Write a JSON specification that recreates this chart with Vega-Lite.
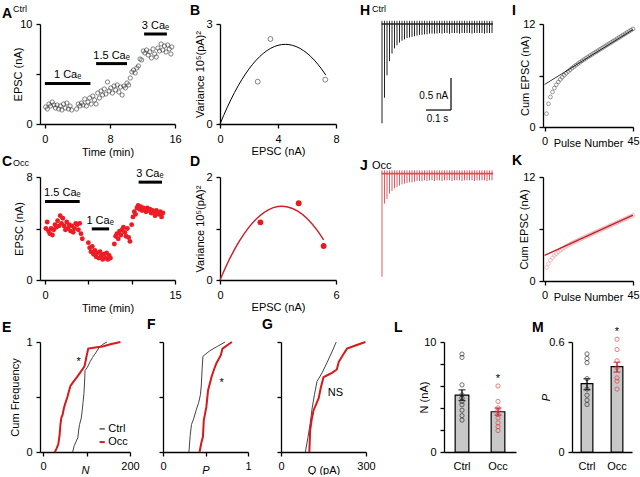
{
 "$schema": "https://vega.github.io/schema/vega-lite/v6.json",
 "padding": {"left": 2, "top": 4, "right": 0, "bottom": 0},
 "spacing": -3,
 "bounds": "full",
 "datasets": {
  "ctrl_train": [
   {"n":1,"t":0,"a":-1.55,"c":1.55},{"n":2,"t":0.01,"a":-1.15,"c":2.70},{"n":3,"t":0.02,"a":-0.80,"c":3.50},{"n":4,"t":0.03,"a":-0.58,"c":4.08},{"n":5,"t":0.04,"a":-0.46,"c":4.54},
   {"n":6,"t":0.05,"a":-0.38,"c":4.92},{"n":7,"t":0.06,"a":-0.33,"c":5.25},{"n":8,"t":0.07,"a":-0.29,"c":5.54},{"n":9,"t":0.08,"a":-0.26,"c":5.80},{"n":10,"t":0.09,"a":-0.24,"c":6.04},
   {"n":11,"t":0.10,"a":-0.22,"c":6.26},{"n":12,"t":0.11,"a":-0.21,"c":6.47},{"n":13,"t":0.12,"a":-0.20,"c":6.67},{"n":14,"t":0.13,"a":-0.19,"c":6.86},{"n":15,"t":0.14,"a":-0.18,"c":7.04},
   {"n":16,"t":0.15,"a":-0.17,"c":7.21},{"n":17,"t":0.16,"a":-0.17,"c":7.38},{"n":18,"t":0.17,"a":-0.16,"c":7.54},{"n":19,"t":0.18,"a":-0.16,"c":7.70},{"n":20,"t":0.19,"a":-0.15,"c":7.85},
   {"n":21,"t":0.20,"a":-0.15,"c":8.00},{"n":22,"t":0.21,"a":-0.15,"c":8.15},{"n":23,"t":0.22,"a":-0.15,"c":8.30},{"n":24,"t":0.23,"a":-0.14,"c":8.44},{"n":25,"t":0.24,"a":-0.15,"c":8.59},
   {"n":26,"t":0.25,"a":-0.14,"c":8.73},{"n":27,"t":0.26,"a":-0.14,"c":8.87},{"n":28,"t":0.27,"a":-0.15,"c":9.02},{"n":29,"t":0.28,"a":-0.14,"c":9.16},{"n":30,"t":0.29,"a":-0.14,"c":9.30},
   {"n":31,"t":0.30,"a":-0.14,"c":9.44},{"n":32,"t":0.31,"a":-0.15,"c":9.59},{"n":33,"t":0.32,"a":-0.14,"c":9.73},{"n":34,"t":0.33,"a":-0.14,"c":9.87},{"n":35,"t":0.34,"a":-0.14,"c":10.01},
   {"n":36,"t":0.35,"a":-0.14,"c":10.15},{"n":37,"t":0.36,"a":-0.15,"c":10.30},{"n":38,"t":0.37,"a":-0.14,"c":10.44},{"n":39,"t":0.38,"a":-0.14,"c":10.58},{"n":40,"t":0.39,"a":-0.14,"c":10.72},
   {"n":41,"t":0.40,"a":-0.14,"c":10.86},{"n":42,"t":0.41,"a":-0.15,"c":11.01},{"n":43,"t":0.42,"a":-0.14,"c":11.15},{"n":44,"t":0.43,"a":-0.14,"c":11.29},{"n":45,"t":0.44,"a":-0.14,"c":11.43}
  ],
  "occ_train": [
   {"n":1,"t":0,"a":-1.55,"c":1.55},{"n":2,"t":0.01,"a":-0.45,"c":2.00},{"n":3,"t":0.02,"a":-0.38,"c":2.38},{"n":4,"t":0.03,"a":-0.30,"c":2.68},{"n":5,"t":0.04,"a":-0.26,"c":2.94},
   {"n":6,"t":0.05,"a":-0.22,"c":3.16},{"n":7,"t":0.06,"a":-0.20,"c":3.36},{"n":8,"t":0.07,"a":-0.18,"c":3.54},{"n":9,"t":0.08,"a":-0.16,"c":3.70},{"n":10,"t":0.09,"a":-0.15,"c":3.85},
   {"n":11,"t":0.10,"a":-0.14,"c":3.99},{"n":12,"t":0.11,"a":-0.13,"c":4.12},{"n":13,"t":0.12,"a":-0.13,"c":4.25},{"n":14,"t":0.13,"a":-0.12,"c":4.37},{"n":15,"t":0.14,"a":-0.11,"c":4.48},
   {"n":16,"t":0.15,"a":-0.11,"c":4.59},{"n":17,"t":0.16,"a":-0.11,"c":4.70},{"n":18,"t":0.17,"a":-0.10,"c":4.80},{"n":19,"t":0.18,"a":-0.11,"c":4.91},{"n":20,"t":0.19,"a":-0.10,"c":5.01},
   {"n":21,"t":0.20,"a":-0.10,"c":5.11},{"n":22,"t":0.21,"a":-0.11,"c":5.22},{"n":23,"t":0.22,"a":-0.10,"c":5.32},{"n":24,"t":0.23,"a":-0.10,"c":5.42},{"n":25,"t":0.24,"a":-0.11,"c":5.53},
   {"n":26,"t":0.25,"a":-0.10,"c":5.63},{"n":27,"t":0.26,"a":-0.10,"c":5.73},{"n":28,"t":0.27,"a":-0.10,"c":5.83},{"n":29,"t":0.28,"a":-0.11,"c":5.94},{"n":30,"t":0.29,"a":-0.10,"c":6.04},
   {"n":31,"t":0.30,"a":-0.10,"c":6.14},{"n":32,"t":0.31,"a":-0.10,"c":6.24},{"n":33,"t":0.32,"a":-0.11,"c":6.35},{"n":34,"t":0.33,"a":-0.10,"c":6.45},{"n":35,"t":0.34,"a":-0.10,"c":6.55},
   {"n":36,"t":0.35,"a":-0.10,"c":6.65},{"n":37,"t":0.36,"a":-0.10,"c":6.75},{"n":38,"t":0.37,"a":-0.11,"c":6.86},{"n":39,"t":0.38,"a":-0.10,"c":6.96},{"n":40,"t":0.39,"a":-0.10,"c":7.06},
   {"n":41,"t":0.40,"a":-0.10,"c":7.16},{"n":42,"t":0.41,"a":-0.10,"c":7.26},{"n":43,"t":0.42,"a":-0.11,"c":7.37},{"n":44,"t":0.43,"a":-0.10,"c":7.47},{"n":45,"t":0.44,"a":-0.10,"c":7.57}
  ]
 },
 "vconcat": [
  {
   "hconcat": [
    {
     "width": 135, "height": 100,
     "title": {"text": "A", "dx": -38, "dy": 20},
     "layer": [
      {
       "data": {"values": [
        {"t":0.1,"v":1.7},{"t":0.3,"v":1.5},{"t":0.5,"v":2.0},{"t":0.7,"v":1.8},{"t":0.9,"v":2.2},{"t":1.1,"v":1.9},{"t":1.3,"v":1.6},{"t":1.5,"v":1.9},{"t":1.7,"v":1.5},{"t":1.9,"v":1.8},
        {"t":2.1,"v":1.4},{"t":2.3,"v":2.0},{"t":2.5,"v":1.6},{"t":2.7,"v":2.1},{"t":2.9,"v":1.5},{"t":3.1,"v":1.8},{"t":3.3,"v":1.4},{"t":3.9,"v":1.5},{"t":4.1,"v":2.0},{"t":4.3,"v":1.8},
        {"t":4.5,"v":2.1},{"t":4.7,"v":1.9},{"t":4.9,"v":2.5},{"t":5.1,"v":1.8},{"t":5.3,"v":2.2},{"t":5.5,"v":2.6},{"t":5.7,"v":2.0},{"t":5.9,"v":2.8},{"t":6.1,"v":2.4},{"t":6.3,"v":2.0},
        {"t":6.5,"v":3.1},{"t":6.7,"v":2.6},{"t":6.9,"v":3.3},{"t":7.1,"v":2.9},{"t":7.3,"v":3.5},{"t":7.5,"v":3.0},{"t":7.7,"v":4.2},{"t":7.9,"v":3.3},{"t":8.1,"v":3.6},{"t":8.3,"v":3.1},
        {"t":8.5,"v":3.8},{"t":8.7,"v":3.4},{"t":8.9,"v":3.9},{"t":9.1,"v":3.2},{"t":9.3,"v":3.7},{"t":9.5,"v":2.9},{"t":9.7,"v":3.8},{"t":9.9,"v":3.6},{"t":10.1,"v":4.1},{"t":10.3,"v":3.9},
        {"t":10.5,"v":4.6},{"t":10.7,"v":5.2},{"t":10.9,"v":5.4},{"t":11.1,"v":5.1},{"t":11.3,"v":5.6},{"t":11.5,"v":5.8},{"t":11.7,"v":6.5},{"t":11.9,"v":6.4},{"t":12.1,"v":7.3},{"t":12.3,"v":7.1},
        {"t":12.5,"v":7.4},{"t":12.7,"v":6.9},{"t":12.9,"v":7.2},{"t":13.1,"v":6.6},{"t":13.3,"v":7.5},{"t":13.5,"v":7.0},{"t":13.7,"v":6.7},{"t":13.9,"v":7.6},{"t":14.1,"v":7.3},{"t":14.3,"v":8.0},
        {"t":14.5,"v":7.4},{"t":14.7,"v":7.8},{"t":14.9,"v":7.2},{"t":15.1,"v":7.9},{"t":15.3,"v":7.5},{"t":15.5,"v":7.0},{"t":15.6,"v":7.7}
       ]},
       "mark": {"type": "point", "shape": "circle", "filled": false, "size": 18, "strokeWidth": 0.8, "color": "#222"},
       "encoding": {
        "x": {"field": "t", "type": "quantitative", "scale": {"domain": [-0.6, 16], "nice": false, "zero": false}, "axis": {"values": [0,4,8,12,16], "labelExpr": "datum.value == 0 ? '0' : datum.value == 8 ? '8' : datum.value == 16 ? '16' : ''", "title": "Time (min)", "labelPadding": 5, "titlePadding": 2}},
        "y": {"field": "v", "type": "quantitative", "scale": {"domain": [0, 10], "nice": false}, "axis": {"values": [0,5,10], "labelExpr": "datum.value == 0 ? '0' : datum.value == 10 ? '10' : ''", "title": "EPSC (nA)", "titlePadding": -4}}
       }
      },
      {
       "data": {"values": [{"s":0,"e":5.6,"y":4.06},{"s":6.3,"e":10.1,"y":6.04},{"s":12.2,"e":15.0,"y":9.0}]},
       "mark": {"type": "rule", "strokeWidth": 3, "color": "#000"},
       "encoding": {"x": {"field": "s", "type": "quantitative"}, "x2": {"field": "e"}, "y": {"field": "y", "type": "quantitative"}}
      },
      {
       "data": {"values": [{"x":2.8,"y":4.06,"s":"1 Caₑ"},{"x":8.2,"y":6.04,"s":"1.5 Caₑ"},{"x":13.6,"y":9.0,"s":"3 Caₑ"}]},
       "mark": {"type": "text", "baseline": "bottom", "dy": -3},
       "encoding": {"x": {"field": "x", "type": "quantitative"}, "y": {"field": "y", "type": "quantitative"}, "text": {"field": "s", "type": "nominal"}}
      },
      {
       "data": {"values": [{"x":-3.92,"y":11.2,"s":"Ctrl"}]},
       "mark": {"type": "text", "align": "left", "baseline": "alphabetic", "fontSize": 9},
       "encoding": {"x": {"field": "x", "type": "quantitative"}, "y": {"field": "y", "type": "quantitative"}, "text": {"field": "s", "type": "nominal"}}
      }
     ]
    },
    {
     "width": 116, "height": 100,
     "title": {"text": "B", "dx": -30, "dy": 4},
     "layer": [
      {
       "data": {"values": [{"x":0,"y":0},{"x":0.5,"y":0.5},{"x":1,"y":0.944},{"x":1.5,"y":1.328},{"x":2,"y":1.652},{"x":2.5,"y":1.918},{"x":3,"y":2.124},{"x":3.5,"y":2.272},{"x":4,"y":2.36},{"x":4.5,"y":2.39},{"x":5,"y":2.36},{"x":5.5,"y":2.272},{"x":6,"y":2.124},{"x":6.5,"y":1.918},{"x":7,"y":1.652},{"x":7.3,"y":1.465}]},
       "mark": {"type": "line", "color": "#000", "strokeWidth": 1, "interpolate": "monotone"},
       "encoding": {
        "x": {"field": "x", "type": "quantitative", "scale": {"domain": [0, 8], "nice": false}, "axis": {"values": [0,2,4,6,8], "labelExpr": "datum.value == 0 ? '0' : datum.value == 4 ? '4' : datum.value == 8 ? '8' : ''", "title": "EPSC (nA)", "labelPadding": 5, "titlePadding": 1}},
        "y": {"field": "y", "type": "quantitative", "scale": {"domain": [0, 3], "nice": false}, "axis": {"values": [0,1,2,3], "labelExpr": "datum.value == 0 ? '0' : datum.value == 3 ? '3' : ''", "title": "Variance 10⁵(pA)²", "titlePadding": 0}}
       }
      },
      {
       "data": {"values": [{"x":2.6,"y":1.27},{"x":3.48,"y":2.55},{"x":7.26,"y":1.33}]},
       "mark": {"type": "point", "shape": "circle", "filled": false, "size": 24, "strokeWidth": 0.8, "color": "#222"},
       "encoding": {"x": {"field": "x", "type": "quantitative"}, "y": {"field": "y", "type": "quantitative"}}
      }
     ]
    },
    {
     "width": 117, "height": 100,
     "title": {"text": "H", "dx": -21, "dy": 17},
     "layer": [
      {
       "data": {"name": "ctrl_train"},
       "mark": {"type": "rule", "color": "#222", "strokeWidth": 1},
       "encoding": {
        "x": {"field": "t", "type": "quantitative", "scale": {"domain": [-0.004, 0.464], "nice": false, "zero": false}, "axis": null},
        "y": {"field": "a", "type": "quantitative", "scale": {"domain": [-1.56, 0], "nice": false}, "axis": null},
        "y2": {"datum": 0}
       }
      },
      {
       "data": {"name": "ctrl_train"},
       "mark": {"type": "rule", "color": "#222", "strokeWidth": 0.9},
       "encoding": {"x": {"field": "t", "type": "quantitative"}, "y": {"datum": 0, "type": "quantitative"}, "y2": {"datum": 0.05}}
      },
      {
       "data": {"values": [{}]},
       "mark": {"type": "rule", "color": "#222", "strokeWidth": 1.6},
       "encoding": {"x": {"datum": -0.002, "type": "quantitative"}, "x2": {"datum": 0.444}, "y": {"datum": 0, "type": "quantitative"}}
      },
      {
       "data": {"values": [{"x1":0.176,"x2":0.276,"y1":-1.342,"y2":-1.342},{"x1":0.276,"x2":0.276,"y1":-0.842,"y2":-1.342}]},
       "mark": {"type": "rule", "color": "#000", "strokeWidth": 1.2},
       "encoding": {"x": {"field": "x1", "type": "quantitative"}, "x2": {"field": "x2"}, "y": {"field": "y1", "type": "quantitative"}, "y2": {"field": "y2"}}
      },
      {
       "data": {"values": [{"x":0.265,"y":-1.12,"s":"0.5 nA"}]},
       "mark": {"type": "text", "align": "right", "baseline": "middle", "fontSize": 10},
       "encoding": {"x": {"field": "x", "type": "quantitative"}, "y": {"field": "y", "type": "quantitative"}, "text": {"field": "s", "type": "nominal"}}
      },
      {
       "data": {"values": [{"x":0.222,"y":-1.40,"s":"0.1 s"}]},
       "mark": {"type": "text", "align": "center", "baseline": "top", "fontSize": 10},
       "encoding": {"x": {"field": "x", "type": "quantitative"}, "y": {"field": "y", "type": "quantitative"}, "text": {"field": "s", "type": "nominal"}}
      },
      {
       "data": {"values": [{"x":-0.04,"y":0.187,"s":"Ctrl"}]},
       "mark": {"type": "text", "align": "left", "baseline": "alphabetic", "fontSize": 9},
       "encoding": {"x": {"field": "x", "type": "quantitative"}, "y": {"field": "y", "type": "quantitative"}, "text": {"field": "s", "type": "nominal"}}
      }
     ]
    },
    {
     "width": 90, "height": 103,
     "title": {"text": "I", "dx": -31, "dy": 4},
     "layer": [
      {
       "data": {"name": "ctrl_train"},
       "mark": {"type": "point", "shape": "circle", "filled": false, "size": 14, "strokeWidth": 0.7, "color": "#333"},
       "encoding": {
        "x": {"field": "n", "type": "quantitative", "scale": {"domain": [-0.8, 45], "nice": false, "zero": false}, "axis": {"values": [0,15,30,45], "labelExpr": "datum.value == 0 ? '0' : datum.value == 45 ? '45' : ''", "title": "Pulse Number", "titlePadding": -9}},
        "y": {"field": "c", "type": "quantitative", "scale": {"domain": [0, 12], "nice": false}, "axis": {"values": [0,3,6,9,12], "labelExpr": "datum.value == 0 ? '0' : datum.value == 12 ? '12' : ''", "title": "Cum EPSC (nA)", "titlePadding": -8}}
       }
      },
      {
       "data": {"values": [{"n":0,"c":4.95},{"n":45,"c":11.35}]},
       "mark": {"type": "line", "color": "#000", "strokeWidth": 0.8},
       "encoding": {"x": {"field": "n", "type": "quantitative"}, "y": {"field": "c", "type": "quantitative"}}
      }
     ]
    }
   ],
   "spacing": 45,
   "bounds": "flush"
  },
  {
   "hconcat": [
    {
     "width": 135, "height": 103,
     "title": {"text": "C", "dx": -38, "dy": 14},
     "layer": [
      {
       "data": {"values": [
        {"t":0.1,"v":4.0},{"t":0.25,"v":4.5},{"t":0.4,"v":3.8},{"t":0.55,"v":3.6},{"t":0.7,"v":4.0},{"t":0.85,"v":3.5},{"t":1.0,"v":3.9},{"t":1.15,"v":4.3},{"t":1.3,"v":4.1},{"t":1.45,"v":4.6},
        {"t":1.6,"v":4.2},{"t":1.75,"v":5.0},{"t":1.9,"v":4.4},{"t":2.05,"v":4.8},{"t":2.2,"v":4.2},{"t":2.35,"v":3.9},{"t":2.5,"v":4.5},{"t":2.65,"v":4.0},{"t":2.8,"v":4.3},{"t":2.95,"v":3.8},
        {"t":3.1,"v":4.2},{"t":3.25,"v":3.7},{"t":3.4,"v":4.0},{"t":3.55,"v":4.4},{"t":3.7,"v":4.3},{"t":3.85,"v":3.9},{"t":4.0,"v":4.4},{"t":4.15,"v":3.6},{"t":4.3,"v":3.2},
        {"t":5.0,"v":2.9},{"t":5.15,"v":2.5},{"t":5.3,"v":2.2},{"t":5.45,"v":2.6},{"t":5.6,"v":2.0},{"t":5.75,"v":2.3},{"t":5.9,"v":1.8},{"t":6.05,"v":2.1},{"t":6.2,"v":1.7},{"t":6.35,"v":2.2},
        {"t":6.5,"v":1.9},{"t":6.65,"v":1.6},{"t":6.8,"v":2.0},{"t":6.95,"v":1.7},{"t":7.1,"v":2.1},{"t":7.25,"v":1.6},{"t":7.4,"v":1.9},{"t":7.55,"v":1.7},
        {"t":8.0,"v":2.8},{"t":8.15,"v":3.4},{"t":8.3,"v":3.6},{"t":8.45,"v":3.2},{"t":8.6,"v":3.8},{"t":8.75,"v":3.5},{"t":8.9,"v":3.9},{"t":9.05,"v":4.1},{"t":9.2,"v":3.7},{"t":9.35,"v":3.4},
        {"t":9.5,"v":4.0},{"t":9.65,"v":3.3},{"t":9.8,"v":3.0},{"t":10.0,"v":4.3},{"t":10.15,"v":4.9},{"t":10.3,"v":5.3},{"t":10.45,"v":5.1},{"t":10.6,"v":5.6},{"t":10.75,"v":5.8},{"t":10.9,"v":5.5},
        {"t":11.05,"v":5.7},{"t":11.2,"v":5.4},{"t":11.35,"v":5.6},{"t":11.5,"v":5.5},{"t":11.65,"v":5.3},{"t":11.8,"v":5.6},{"t":11.95,"v":5.4},{"t":12.1,"v":5.5},{"t":12.25,"v":5.2},{"t":12.4,"v":5.4},
        {"t":12.55,"v":5.3},{"t":12.7,"v":5.0},{"t":12.85,"v":5.4},{"t":13.0,"v":5.2},{"t":13.15,"v":5.1},{"t":13.3,"v":5.3},{"t":13.45,"v":4.9},{"t":13.6,"v":5.2}
       ]},
       "mark": {"type": "circle", "size": 24, "color": "#ed1c24", "opacity": 1},
       "encoding": {
        "x": {"field": "t", "type": "quantitative", "scale": {"domain": [-0.58, 15], "nice": false, "zero": false}, "axis": {"values": [0,5,10,15], "labelExpr": "datum.value == 0 ? '0' : datum.value == 15 ? '15' : ''", "title": "Time (min)", "labelPadding": 5, "titlePadding": 2}},
        "y": {"field": "v", "type": "quantitative", "scale": {"domain": [0, 8], "nice": false}, "axis": {"values": [0,2,4,6,8], "labelExpr": "datum.value == 0 ? '0' : datum.value == 8 ? '8' : ''", "title": "EPSC (nA)", "titlePadding": 1}}
       }
      },
      {
       "data": {"values": [{"s":0,"e":4.0,"y":6.1},{"s":5.4,"e":7.4,"y":3.97},{"s":10.8,"e":13.5,"y":7.6}]},
       "mark": {"type": "rule", "strokeWidth": 3, "color": "#000"},
       "encoding": {"x": {"field": "s", "type": "quantitative"}, "x2": {"field": "e"}, "y": {"field": "y", "type": "quantitative"}}
      },
      {
       "data": {"values": [{"x":2.0,"y":6.1,"s":"1.5 Caₑ"},{"x":6.35,"y":3.97,"s":"1 Caₑ"},{"x":12.1,"y":7.6,"s":"3 Caₑ"}]},
       "mark": {"type": "text", "baseline": "bottom", "dy": -3},
       "encoding": {"x": {"field": "x", "type": "quantitative"}, "y": {"field": "y", "type": "quantitative"}, "text": {"field": "s", "type": "nominal"}}
      },
      {
       "data": {"values": [{"x":-3.7,"y":8.85,"s":"Occ"}]},
       "mark": {"type": "text", "align": "left", "baseline": "alphabetic", "fontSize": 9},
       "encoding": {"x": {"field": "x", "type": "quantitative"}, "y": {"field": "y", "type": "quantitative"}, "text": {"field": "s", "type": "nominal"}}
      }
     ]
    },
    {
     "width": 116, "height": 103,
     "title": {"text": "D", "dx": -30, "dy": 2},
     "layer": [
      {
       "data": {"values": [{"x":0,"y":0},{"x":0.5,"y":0.412},{"x":1,"y":0.754},{"x":1.5,"y":1.027},{"x":2,"y":1.229},{"x":2.5,"y":1.362},{"x":3,"y":1.425},{"x":3.2,"y":1.43},{"x":3.5,"y":1.418},{"x":4,"y":1.341},{"x":4.5,"y":1.194},{"x":5,"y":0.978},{"x":5.36,"y":0.779}]},
       "mark": {"type": "line", "color": "#cc2229", "strokeWidth": 1.5, "interpolate": "monotone"},
       "encoding": {
        "x": {"field": "x", "type": "quantitative", "scale": {"domain": [0, 6], "nice": false}, "axis": {"values": [0,2,4,6], "labelExpr": "datum.value == 0 ? '0' : datum.value == 6 ? '6' : ''", "title": "EPSC (nA)", "labelPadding": 5, "titlePadding": 1}},
        "y": {"field": "y", "type": "quantitative", "scale": {"domain": [0, 2], "nice": false}, "axis": {"values": [0,1,2], "labelExpr": "datum.value == 0 ? '0' : datum.value == 2 ? '2' : ''", "title": "Variance 10⁵(pA)²", "titlePadding": 0}}
       }
      },
      {
       "data": {"values": [{"x":2.09,"y":1.12},{"x":4.07,"y":1.49},{"x":5.36,"y":0.66}]},
       "mark": {"type": "circle", "size": 34, "color": "#e41a1c", "opacity": 1},
       "encoding": {"x": {"field": "x", "type": "quantitative"}, "y": {"field": "y", "type": "quantitative"}}
      }
     ]
    },
    {
     "width": 117, "height": 144,
     "title": {"text": "J", "dx": -21, "dy": 17},
     "layer": [
      {
       "data": {"name": "occ_train"},
       "mark": {"type": "rule", "color": "#dd4a52", "strokeWidth": 0.9},
       "encoding": {
        "x": {"field": "t", "type": "quantitative", "scale": {"domain": [-0.004, 0.464], "nice": false, "zero": false}, "axis": null},
        "y": {"field": "a", "type": "quantitative", "scale": {"domain": [-2.215, -0.05], "nice": false, "zero": false}, "axis": null},
        "y2": {"datum": 0}
       }
      },
      {
       "data": {"name": "occ_train"},
       "mark": {"type": "rule", "color": "#dd4a52", "strokeWidth": 0.9},
       "encoding": {"x": {"field": "t", "type": "quantitative"}, "y": {"datum": 0, "type": "quantitative"}, "y2": {"datum": 0.05}}
      },
      {
       "data": {"values": [{}]},
       "mark": {"type": "rule", "color": "#dd4a52", "strokeWidth": 1.6},
       "encoding": {"x": {"datum": -0.002, "type": "quantitative"}, "x2": {"datum": 0.444}, "y": {"datum": 0, "type": "quantitative"}}
      },
      {
       "data": {"values": [{"x":-0.04,"y":0.07,"s":"Occ"}]},
       "mark": {"type": "text", "align": "left", "baseline": "alphabetic", "fontSize": 11},
       "encoding": {"x": {"field": "x", "type": "quantitative"}, "y": {"field": "y", "type": "quantitative"}, "text": {"field": "s", "type": "nominal"}}
      }
     ]
    },
    {
     "width": 90, "height": 104,
     "title": {"text": "K", "dx": -31, "dy": 1},
     "layer": [
      {
       "data": {"name": "occ_train"},
       "mark": {"type": "point", "shape": "circle", "filled": false, "size": 14, "strokeWidth": 0.7, "color": "#e8868b"},
       "encoding": {
        "x": {"field": "n", "type": "quantitative", "scale": {"domain": [-0.8, 45], "nice": false, "zero": false}, "axis": {"values": [0,15,30,45], "labelExpr": "datum.value == 0 ? '0' : datum.value == 45 ? '45' : ''", "title": "Pulse Number", "titlePadding": -9}},
        "y": {"field": "c", "type": "quantitative", "scale": {"domain": [0, 12], "nice": false}, "axis": {"values": [0,3,6,9,12], "labelExpr": "datum.value == 0 ? '0' : datum.value == 12 ? '12' : ''", "title": "Cum EPSC (nA)", "titlePadding": -7}}
       }
      },
      {
       "data": {"values": [{"n":0,"c":2.95},{"n":45,"c":7.6}]},
       "mark": {"type": "line", "color": "#c0202a", "strokeWidth": 1.3},
       "encoding": {"x": {"field": "n", "type": "quantitative"}, "y": {"field": "c", "type": "quantitative"}}
      }
     ]
    }
   ],
   "spacing": 45,
   "bounds": "flush"
  },
  {
   "hconcat": [
    {
     "hconcat": [
      {
       "width": 90, "height": 110,
       "title": {"text": "E", "dx": -38, "dy": 3},
       "layer": [
        {
         "data": {"values": [{"x":68,"y":0},{"x":72,"y":0.06},{"x":80,"y":0.13},{"x":82,"y":0.2},{"x":84,"y":0.25},{"x":88,"y":0.31},{"x":90,"y":0.375},{"x":92,"y":0.45},{"x":94,"y":0.53},{"x":95,"y":0.6},{"x":96,"y":0.68},{"x":96.5,"y":0.74},{"x":102,"y":0.77},{"x":108,"y":0.82},{"x":114,"y":0.86},{"x":121,"y":0.9},{"x":129,"y":0.95},{"x":138,"y":0.98},{"x":147,"y":1.0}]},
         "mark": {"type": "line", "color": "#444", "strokeWidth": 1},
         "encoding": {
          "x": {"field": "x", "type": "quantitative", "scale": {"domain": [-7, 200], "nice": false, "zero": false}, "axis": {"values": [0,100,200], "labelExpr": "datum.value == 0 ? '0' : datum.value == 200 ? '200' : ''", "title": "N", "titleFontStyle": "italic", "titlePadding": -7}},
          "y": {"field": "y", "type": "quantitative", "scale": {"domain": [0, 1], "nice": false}, "axis": {"values": [0,0.25,0.5,0.75,1], "labelExpr": "datum.value == 0 ? '0' : datum.value == 1 ? '1' : ''", "title": "Cum Frequency", "titlePadding": 5}}
         }
        },
        {
         "data": {"values": [{"x":27,"y":0},{"x":31,"y":0.03},{"x":35,"y":0.07},{"x":38,"y":0.15},{"x":40,"y":0.25},{"x":42,"y":0.31},{"x":45,"y":0.34},{"x":48,"y":0.4},{"x":51,"y":0.44},{"x":56,"y":0.5},{"x":60,"y":0.56},{"x":63,"y":0.6},{"x":70,"y":0.64},{"x":78,"y":0.68},{"x":87,"y":0.73},{"x":94,"y":0.77},{"x":96,"y":0.79},{"x":100,"y":0.87},{"x":104,"y":0.94},{"x":120,"y":0.95},{"x":137,"y":0.96},{"x":155,"y":0.98},{"x":178,"y":1.0}]},
         "mark": {"type": "line", "color": "#d7191c", "strokeWidth": 2},
         "encoding": {"x": {"field": "x", "type": "quantitative"}, "y": {"field": "y", "type": "quantitative"}}
        },
        {
         "data": {"values": [{"x":130,"x2":142,"y":0.21}]},
         "mark": {"type": "rule", "color": "#555", "strokeWidth": 1.5},
         "encoding": {"x": {"field": "x", "type": "quantitative"}, "x2": {"field": "x2"}, "y": {"field": "y", "type": "quantitative"}}
        },
        {
         "data": {"values": [{"x":130,"x2":142,"y":0.09}]},
         "mark": {"type": "rule", "color": "#d7191c", "strokeWidth": 2},
         "encoding": {"x": {"field": "x", "type": "quantitative"}, "x2": {"field": "x2"}, "y": {"field": "y", "type": "quantitative"}}
        },
        {
         "data": {"values": [{"x":150,"y":0.21,"s":"Ctrl"},{"x":150,"y":0.09,"s":"Occ"}]},
         "mark": {"type": "text", "align": "left", "baseline": "middle"},
         "encoding": {"x": {"field": "x", "type": "quantitative"}, "y": {"field": "y", "type": "quantitative"}, "text": {"field": "s", "type": "nominal"}}
        },
        {
         "data": {"values": [{"x":82,"y":0.82}]},
         "mark": {"type": "text", "text": "*", "fontSize": 11},
         "encoding": {"x": {"field": "x", "type": "quantitative"}, "y": {"field": "y", "type": "quantitative"}}
        }
       ]
      },
      {
       "width": 85, "height": 110,
       "title": {"text": "F", "dx": -16, "dy": -2},
       "layer": [
        {
         "data": {"values": [{"x":0.305,"y":0},{"x":0.32,"y":0.15},{"x":0.335,"y":0.25},{"x":0.36,"y":0.3},{"x":0.39,"y":0.38},{"x":0.42,"y":0.45},{"x":0.44,"y":0.52},{"x":0.45,"y":0.6},{"x":0.46,"y":0.75},{"x":0.47,"y":0.87},{"x":0.55,"y":0.92},{"x":0.64,"y":0.96},{"x":0.73,"y":1.0}]},
         "mark": {"type": "line", "color": "#444", "strokeWidth": 1},
         "encoding": {
          "x": {"field": "x", "type": "quantitative", "scale": {"domain": [0, 1], "nice": false, "zero": false}, "axis": {"values": [0,0.25,0.5,0.75,1], "labelExpr": "datum.value == 0 ? '0' : datum.value == 1 ? '1' : ''", "title": "P", "titleFontStyle": "italic", "titlePadding": -7}},
          "y": {"field": "y", "type": "quantitative", "scale": {"domain": [0, 1], "nice": false}, "axis": {"values": [0,0.25,0.5,0.75,1], "labels": false, "title": null}}
         }
        },
        {
         "data": {"values": [{"x":0.43,"y":0},{"x":0.45,"y":0.08},{"x":0.47,"y":0.14},{"x":0.48,"y":0.29},{"x":0.51,"y":0.41},{"x":0.53,"y":0.56},{"x":0.57,"y":0.68},{"x":0.6,"y":0.75},{"x":0.63,"y":0.81},{"x":0.68,"y":0.88},{"x":0.7,"y":0.94},{"x":0.81,"y":1.0}]},
         "mark": {"type": "line", "color": "#d7191c", "strokeWidth": 2},
         "encoding": {"x": {"field": "x", "type": "quantitative"}, "y": {"field": "y", "type": "quantitative"}}
        },
        {
         "data": {"values": [{"x":0.69,"y":0.63}]},
         "mark": {"type": "text", "text": "*", "fontSize": 11},
         "encoding": {"x": {"field": "x", "type": "quantitative"}, "y": {"field": "y", "type": "quantitative"}}
        }
       ]
      },
      {
       "width": 85, "height": 110,
       "title": {"text": "G", "dx": -19, "dy": -2},
       "layer": [
        {
         "data": {"values": [{"x":86,"y":0},{"x":95,"y":0.13},{"x":103,"y":0.26},{"x":110,"y":0.4},{"x":118,"y":0.52},{"x":127,"y":0.64},{"x":145,"y":0.72},{"x":162,"y":0.81},{"x":178,"y":0.9},{"x":195,"y":1.0}]},
         "mark": {"type": "line", "color": "#444", "strokeWidth": 1},
         "encoding": {
          "x": {"field": "x", "type": "quantitative", "scale": {"domain": [0, 300], "nice": false, "zero": false}, "axis": {"values": [0,100,200,300], "labelExpr": "datum.value == 0 ? '0' : datum.value == 300 ? '300' : ''", "title": "Q (pA)", "titlePadding": -7}},
          "y": {"field": "y", "type": "quantitative", "scale": {"domain": [0, 1], "nice": false}, "axis": {"values": [0,0.25,0.5,0.75,1], "labels": false, "title": null}}
         }
        },
        {
         "data": {"values": [{"x":100,"y":0},{"x":103,"y":0.2},{"x":108,"y":0.29},{"x":115,"y":0.38},{"x":125,"y":0.44},{"x":133,"y":0.49},{"x":140,"y":0.58},{"x":150,"y":0.68},{"x":165,"y":0.7},{"x":180,"y":0.72},{"x":197,"y":0.75},{"x":204,"y":0.82},{"x":218,"y":0.88},{"x":233,"y":0.94},{"x":265,"y":0.97},{"x":298,"y":1.0}]},
         "mark": {"type": "line", "color": "#d7191c", "strokeWidth": 2},
         "encoding": {"x": {"field": "x", "type": "quantitative"}, "y": {"field": "y", "type": "quantitative"}}
        },
        {
         "data": {"values": [{"x":192,"y":0.54,"s":"NS"}]},
         "mark": {"type": "text", "baseline": "middle", "fontSize": 11},
         "encoding": {"x": {"field": "x", "type": "quantitative"}, "y": {"field": "y", "type": "quantitative"}, "text": {"field": "s", "type": "nominal"}}
        }
       ]
      }
     ],
     "spacing": 33,
     "bounds": "flush"
    },
    {
     "hconcat": [
      {
       "width": 72, "height": 110,
       "title": {"text": "L", "dx": -50, "dy": 3},
       "resolve": {"scale": {"color": "independent"}},
       "layer": [
        {
         "data": {"values": [{"g":"Ctrl","m":5.17},{"g":"Occ","m":3.66}]},
         "mark": {"type": "bar", "fill": "#c8c8c8", "stroke": "#000", "strokeWidth": 1.2},
         "encoding": {
          "x": {"field": "g", "type": "nominal", "sort": ["Ctrl","Occ"], "scale": {"paddingInner": 0.62, "paddingOuter": 0.31}, "axis": {"title": null, "labelAngle": 0, "ticks": false, "labelPadding": 8}},
          "y": {"field": "m", "type": "quantitative", "stack": null, "scale": {"domain": [0, 10], "nice": false, "zero": true}, "axis": {"tickCount": 6, "labelOverlap": false, "labelBound": false, "labelExpr": "datum.value < 0.01 ? '0' : datum.value > 9.9 ? '10' : ''", "title": "N (nA)", "titlePadding": -6}}
         }
        },
        {
         "data": {"values": [{"g":"Ctrl","lo":4.68,"hi":5.65},{"g":"Occ","lo":3.35,"hi":4.0}]},
         "mark": {"type": "rule", "strokeWidth": 1.3},
         "encoding": {"x": {"field": "g", "type": "nominal"}, "y": {"field": "lo", "type": "quantitative"}, "y2": {"field": "hi"}, "color": {"field": "g", "type": "nominal", "scale": {"domain": ["Ctrl","Occ"], "range": ["#000","#c8102e"]}, "legend": null}}
        },
        {
         "data": {"values": [{"g":"Ctrl","v":4.68},{"g":"Ctrl","v":5.65},{"g":"Occ","v":3.35},{"g":"Occ","v":4.0}]},
         "mark": {"type": "tick", "orient": "horizontal", "size": 7, "thickness": 1.3},
         "encoding": {"x": {"field": "g", "type": "nominal"}, "y": {"field": "v", "type": "quantitative"}, "color": {"field": "g", "type": "nominal", "scale": {"domain": ["Ctrl","Occ"], "range": ["#000","#c8102e"]}, "legend": null}}
        },
        {
         "data": {"values": [{"g":"Ctrl","v":8.9},{"g":"Ctrl","v":8.6},{"g":"Ctrl","v":6.1},{"g":"Ctrl","v":5.2},{"g":"Ctrl","v":4.9},{"g":"Ctrl","v":4.6},{"g":"Ctrl","v":4.3},{"g":"Ctrl","v":3.8},{"g":"Ctrl","v":3.3},{"g":"Ctrl","v":2.9},
          {"g":"Occ","v":6.0},{"g":"Occ","v":4.6},{"g":"Occ","v":4.0},{"g":"Occ","v":3.8},{"g":"Occ","v":3.4},{"g":"Occ","v":3.1},{"g":"Occ","v":2.65},{"g":"Occ","v":2.3},{"g":"Occ","v":1.95}]},
         "mark": {"type": "point", "shape": "circle", "filled": false, "size": 18, "strokeWidth": 0.9},
         "encoding": {"x": {"field": "g", "type": "nominal"}, "y": {"field": "v", "type": "quantitative"}, "color": {"field": "g", "type": "nominal", "scale": {"domain": ["Ctrl","Occ"], "range": ["#222","#e0383c"]}, "legend": null}}
        },
        {
         "data": {"values": [{"g":"Occ","v":6.6}]},
         "mark": {"type": "text", "text": "*", "fontSize": 11},
         "encoding": {"x": {"field": "g", "type": "nominal"}, "y": {"field": "v", "type": "quantitative"}}
        }
       ]
      },
      {
       "width": 60, "height": 110,
       "title": {"text": "M", "dx": -40, "dy": 13},
       "resolve": {"scale": {"color": "independent"}},
       "layer": [
        {
         "data": {"values": [{"g":"Ctrl","m":0.373},{"g":"Occ","m":0.466}]},
         "mark": {"type": "bar", "fill": "#c8c8c8", "stroke": "#000", "strokeWidth": 1.2},
         "encoding": {
          "x": {"field": "g", "type": "nominal", "sort": ["Ctrl","Occ"], "scale": {"paddingInner": 0.61, "paddingOuter": 0.305}, "axis": {"title": null, "labelAngle": 0, "ticks": false, "labelPadding": 8}},
          "y": {"field": "m", "type": "quantitative", "stack": null, "scale": {"domain": [0, 0.6], "nice": false}, "axis": {"values": [0,0.2,0.4,0.6], "labelOverlap": false, "labelExpr": "datum.value < 0.01 ? '0' : datum.value > 0.59 ? '0.6' : ''", "title": "P", "titleFontStyle": "italic", "titlePadding": -3}}
         }
        },
        {
         "data": {"values": [{"g":"Ctrl","lo":0.34,"hi":0.40},{"g":"Occ","lo":0.436,"hi":0.49}]},
         "mark": {"type": "rule", "strokeWidth": 1.3},
         "encoding": {"x": {"field": "g", "type": "nominal"}, "y": {"field": "lo", "type": "quantitative"}, "y2": {"field": "hi"}, "color": {"field": "g", "type": "nominal", "scale": {"domain": ["Ctrl","Occ"], "range": ["#000","#c8102e"]}, "legend": null}}
        },
        {
         "data": {"values": [{"g":"Ctrl","v":0.34},{"g":"Ctrl","v":0.40},{"g":"Occ","v":0.436},{"g":"Occ","v":0.49}]},
         "mark": {"type": "tick", "orient": "horizontal", "size": 7, "thickness": 1.3},
         "encoding": {"x": {"field": "g", "type": "nominal"}, "y": {"field": "v", "type": "quantitative"}, "color": {"field": "g", "type": "nominal", "scale": {"domain": ["Ctrl","Occ"], "range": ["#000","#c8102e"]}, "legend": null}}
        },
        {
         "data": {"values": [{"g":"Ctrl","v":0.535},{"g":"Ctrl","v":0.51},{"g":"Ctrl","v":0.487},{"g":"Ctrl","v":0.40},{"g":"Ctrl","v":0.343},{"g":"Ctrl","v":0.31},{"g":"Ctrl","v":0.283},{"g":"Ctrl","v":0.259},
          {"g":"Occ","v":0.615},{"g":"Occ","v":0.559},{"g":"Occ","v":0.497},{"g":"Occ","v":0.46},{"g":"Occ","v":0.404},{"g":"Occ","v":0.386},{"g":"Occ","v":0.343}]},
         "mark": {"type": "point", "shape": "circle", "filled": false, "size": 18, "strokeWidth": 0.9},
         "encoding": {"x": {"field": "g", "type": "nominal"}, "y": {"field": "v", "type": "quantitative"}, "color": {"field": "g", "type": "nominal", "scale": {"domain": ["Ctrl","Occ"], "range": ["#222","#e0383c"]}, "legend": null}}
        },
        {
         "data": {"values": [{"g":"Occ","v":0.655}]},
         "mark": {"type": "text", "text": "*", "fontSize": 11},
         "encoding": {"x": {"field": "g", "type": "nominal"}, "y": {"field": "v", "type": "quantitative"}}
        }
       ]
      }
     ],
     "spacing": 56,
     "bounds": "flush"
    }
   ],
   "spacing": 18,
   "bounds": "full"
  }
 ],
 "config": {
  "font": "Liberation Sans",
  "view": {"stroke": null},
  "axis": {"grid": false, "domainColor": "#000", "domainWidth": 1.3, "tickColor": "#000", "tickWidth": 1.3, "tickSize": 4, "labelFontSize": 11, "titleFontSize": 11, "titleFontWeight": "normal", "labelColor": "#000", "titleColor": "#000", "labelPadding": 4, "labelOverlap": false, "labelFlush": false, "titlePadding": 2, "labelFont": "Liberation Sans", "titleFont": "Liberation Sans"},
  "title": {"fontSize": 14, "fontWeight": "bold", "anchor": "start", "frame": "group", "baseline": "top", "offset": 0, "color": "#000", "font": "Liberation Sans"},
  "text": {"fontSize": 11, "color": "#000", "font": "Liberation Sans"}
 }
}
